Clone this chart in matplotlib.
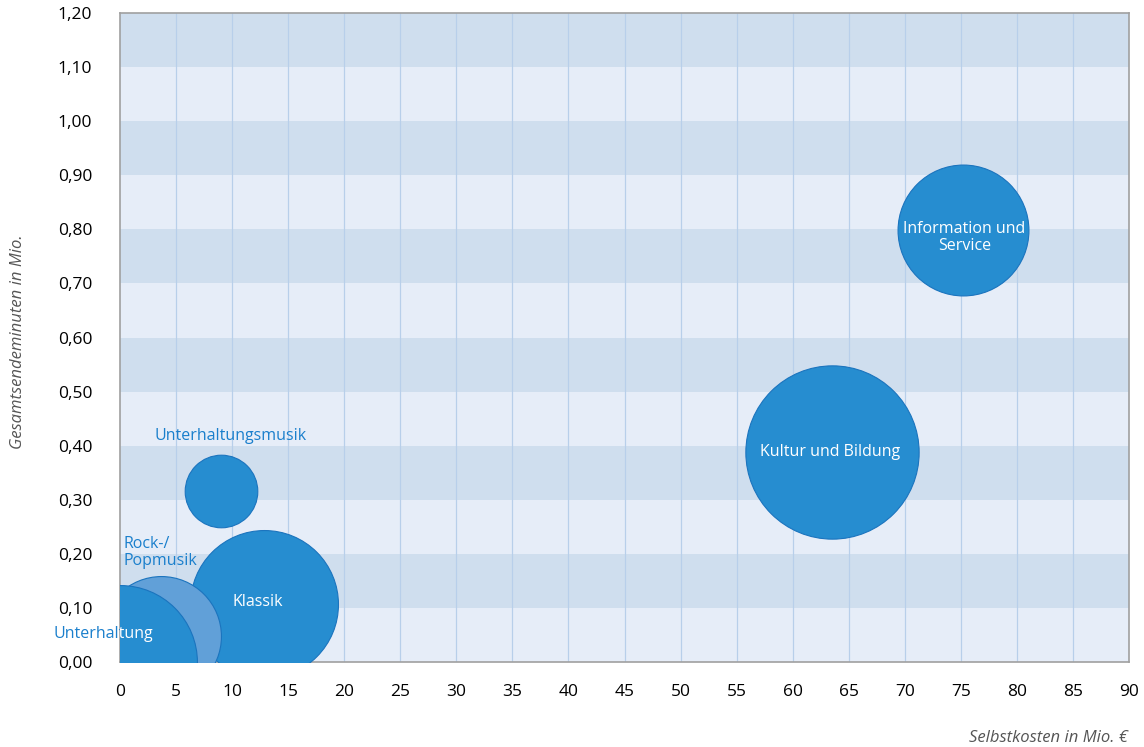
import numpy as np
import matplotlib
matplotlib.use('Agg')
import matplotlib.pyplot as plt

plt.rcParams['font.family'] = ['Open Sans', 'DejaVu Sans']

# data: Selbstkosten (Mio. EUR), Gesamtsendeminuten (Mio.), Blasengroesse (rel.)
genres = ['Klassik', 'Rock-/\nPopmusik', 'Unterhaltung', 'Unterhaltungsmusik',
          'Kultur und Bildung', 'Information und\nService']
kosten = [12.8, 3.7, 0.0, 9.0, 63.5, 75.2]
minuten = [0.107, 0.048, 0.0, 0.317, 0.389, 0.799]
groesse = [54.8, 36.0, 59.3, 13.2, 75.2, 42.9]

yticks = np.arange(0, 1.21, 0.1)
xticks = np.arange(0, 91, 5)

blue = '#268dd0'
edge = '#1b74be'
light = '#61a0d8'
txtblue = '#1a7fcc'

fig = plt.figure(figsize=(11.44, 7.47), dpi=100)
ax = fig.add_axes([120/1144, 85/747, 1009/1144, 649/747])
ax.set_xlim(0, 90)
ax.set_ylim(0, 1.2)

# bands
for i in range(12):
    col = '#cfdeee' if i % 2 == 1 else '#e6edf8'
    ax.axhspan(yticks[i], yticks[i] + 0.1, color=col, lw=0, zorder=0)
for x in xticks[1:-1]:
    ax.axvline(x, color='#b8cfea', lw=0.9, zorder=1)

cols = [blue, light, blue, blue, blue, blue]
for i in range(len(genres)):
    ax.scatter(kosten[i], minuten[i], s=groesse[i] * 207, color=cols[i],
               edgecolor=edge, lw=0.8, zorder=3 + i)

for sp in ax.spines.values():
    sp.set_color('#a0a0a0')
    sp.set_linewidth(1.2)

ax.set_xticks(xticks)
ax.set_yticks(yticks)
ax.set_xticklabels([str(int(x)) for x in xticks])
ax.set_yticklabels([('%.2f' % y).replace('.', ',') for y in yticks])
ax.tick_params(length=0, labelsize=12.5, colors='black')
ax.tick_params(axis='y', pad=20)
ax.tick_params(axis='x', pad=16)

# labels
fs = 11.5
ax.text(12.3, 0.111, 'Klassik', color='white', fontsize=fs, ha='center', va='center', zorder=20)
ax.text(63.3, 0.389, 'Kultur und Bildung', color='white', fontsize=fs, ha='center', va='center', zorder=20)
ax.text(75.3, 0.785, 'Information und\nService', color='white', fontsize=fs, ha='center',
        va='center', multialignment='center', linespacing=1.1, zorder=20)
ax.text(9.9, 0.418, 'Unterhaltungsmusik', color=txtblue, fontsize=fs, ha='center', va='center', zorder=20)
ax.text(0.27, 0.203, 'Rock-/\nPopmusik', color=txtblue, fontsize=fs, ha='left', va='center',
        linespacing=1.1, zorder=20)
ax.text(-5.9, 0.052, 'Unterhaltung', color=txtblue, fontsize=fs, ha='left', va='center',
        clip_on=False, zorder=20)
t = ax.text(-5.9, 0.052, 'Unterhaltung', color='white', fontsize=fs, ha='left', va='center',
            clip_on=True, zorder=21)
t.set_clip_path(None)
t.set_clip_box(ax.bbox)

fig.text(18/1144, 1 - 342/747, 'Gesamtsendeminuten in Mio.', rotation=90, style='italic',
         color='#555555', fontsize=12, ha='center', va='center')
fig.text(1128/1144, 1 - 738/747, 'Selbstkosten in Mio. €', style='italic',
         color='#555555', fontsize=12, ha='right', va='center')

fig.savefig('out.png', dpi=100)
